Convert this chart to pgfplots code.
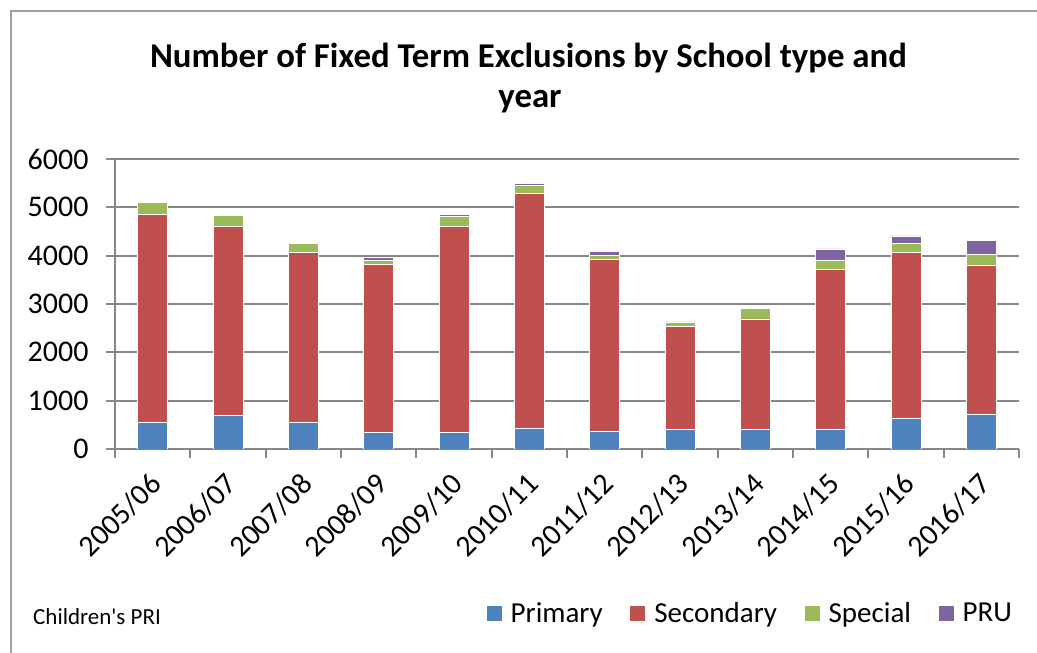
\documentclass[border=0pt]{standalone}
\usepackage{pgfplots}
\pgfplotsset{compat=1.18}
\usepackage{pgfplotstable}
\usepackage{fontspec}
\setmainfont{Carlito}
\newfontfamily\carlitoraw{Carlito}[Ligatures=TeXOff]
\definecolor{cP}{HTML}{4F81BD}
\definecolor{cS}{HTML}{C0504D}
\definecolor{cSp}{HTML}{9BBB59}
\definecolor{cR}{HTML}{8064A2}
\definecolor{gridc}{HTML}{878787}
\definecolor{framec}{HTML}{A0A0A0}

\pgfplotstableread{
x P S Sp R
0 552 4302 256 0
1 697 3916 221 0
2 545 3529 186 0
3 345 3473 90 55
4 345 4268 193 48
5 428 4861 159 48
6 373 3556 76 83
7 407 2127 83 14
8 407 2286 214 28
9 414 3301 186 242
10 642 3425 193 152
11 711 3101 221 290
}\data

\begin{document}
\begin{tikzpicture}[x=1pt,y=1pt]
\path[use as bounding box] (0,0) rectangle (1037,653);
\draw[framec, line width=2pt] (11,0) -- (11,642) -- (1037,642);
\begin{axis}[
  at={(115pt,204pt)}, anchor=south west,
  scale only axis, width=904pt, height=290pt,
  ybar stacked, bar width=30pt, bar shift=0pt,
  xmin=-0.5, xmax=11.5, ymin=0, ymax=6000,
  ytick={0,1000,...,6000},
  xtick={-0.5,0.5,...,11.5},
  x tick label as interval,
  xticklabels={2005/06,2006/07,2007/08,2008/09,2009/10,2010/11,2011/12,2012/13,2013/14,2014/15,2015/16,2016/17},
  axis x line*=bottom, axis y line*=left,
  axis line style={gridc, line width=2pt},
  ymajorgrids, grid style={gridc, line width=2pt},
  tick align=outside, major tick length=9pt,
  tick style={gridc, line width=2pt},
  /pgf/number format/assume math mode=true,
  /pgf/number format/1000 sep={},
  ticklabel style={font=\fontsize{30}{32}\selectfont},
  yticklabel style={xshift=-14pt},
  xticklabel style={xshift=-4pt, yshift=-13pt, rotate=45, anchor=north east, inner sep=0pt},
  legend columns=4,
  legend style={draw=none, fill=none, inner sep=0pt,
    at={(axis description cs:0.4098,-0.5655)}, anchor=west,
    font=\fontsize{29}{31}\selectfont,
    nodes={inner sep=3.5pt},
    /tikz/every odd column/.append style={column sep=5pt},
    /tikz/every even column/.append style={column sep=23pt}},
  legend cell align=left,
  legend image code/.code={\fill[#1] (0pt,-8pt) rectangle (16pt,8pt);},
]
\addplot[fill=cP, draw=white, line width=0.5pt] table[x=x,y=P]{\data};
\addplot[fill=cS, draw=white, line width=0.5pt] table[x=x,y=S]{\data};
\addplot[fill=cSp, draw=white, line width=0.5pt] table[x=x,y=Sp]{\data};
\addplot[fill=cR, draw=white, line width=0.5pt] table[x=x,y=R]{\data};
\legend{Primary,Secondary,Special,PRU}
\end{axis}
\node[anchor=base, font=\bfseries\fontsize{34.8}{37}\selectfont, inner sep=0pt] at (528.5,585) {Number of Fixed Term Exclusions by School type and};
\node[anchor=base, font=\bfseries\fontsize{34.8}{37}\selectfont, inner sep=0pt] at (530,545) {year};
\node[anchor=base west, font=\carlitoraw\fontsize{23}{25}\selectfont, inner sep=0pt] at (33,28) {Children's PRI};
\end{tikzpicture}
\end{document}
